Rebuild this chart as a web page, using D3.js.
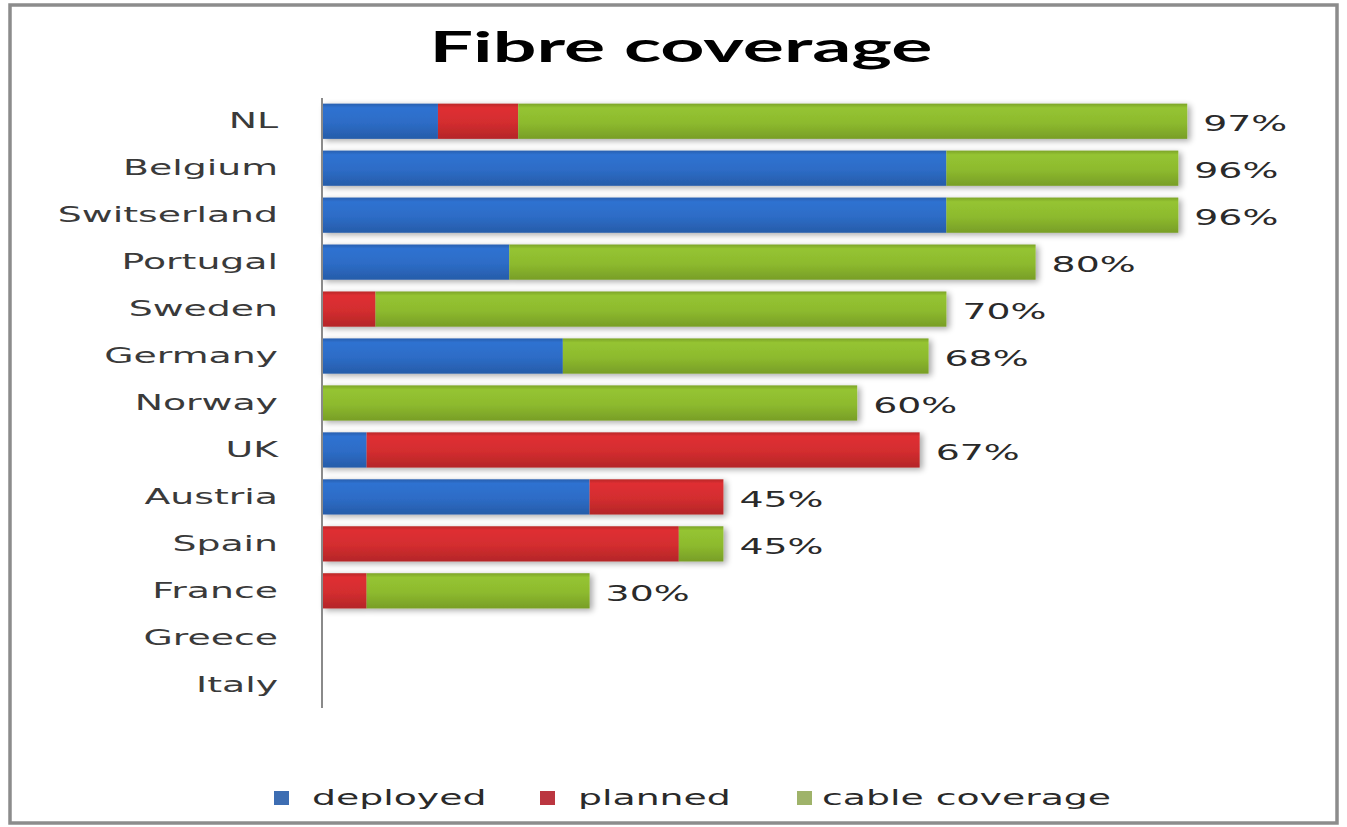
<!DOCTYPE html>
<html>
<head>
<meta charset="utf-8">
<script src="https://cdn.jsdelivr.net/npm/d3@7"></script>
<style>
  html, body { margin: 0; padding: 0; background: #fff; }
  svg { display: block; }
</style>
</head>
<body>
<svg id="chart" width="1347" height="827"></svg>
<script>
const categories = ["NL","Belgium","Switserland","Portugal","Sweden","Germany","Norway","UK","Austria","Spain","France","Greece","Italy"];
const deployed   = [13, 70, 70, 21, 0, 27, 0, 5, 30, 0, 0, 0, 0];
const planned    = [9, 0, 0, 0, 6, 0, 0, 62, 15, 40, 5, 0, 0];
const cable      = [75, 26, 26, 59, 64, 41, 60, 0, 0, 5, 25, 0, 0];
const totalLabels = ["97%","96%","96%","80%","70%","68%","60%","67%","45%","45%","30%","",""];
const seriesNames = ["deployed","planned","cable coverage"];
const seriesKeys = ["deployed","planned","cable"];
const barColors = ["#2d6cc6","#d32d2f","#8dba2e"];
const legendColors = ["#3d6db2","#bb3640","#9fb36a"];

const svg = d3.select("#chart");
const W = 1347, H = 827;
const SX = 1.8;            // horizontal text stretch seen in the reference
const FONT = "'DejaVu Sans', Verdana, sans-serif";

// frame
svg.append("rect").attr("x", 10).attr("y", 5).attr("width", W - 20).attr("height", H - 9)
  .attr("fill", "#fff").attr("stroke", "#8c8c8c").attr("stroke-width", 3.5);

const rows = categories.map((c, i) => ({ cat: c, deployed: deployed[i], planned: planned[i], cable: cable[i], label: totalLabels[i] }));

const x = d3.scaleLinear().domain([0, 100]).range([322, 1214]);
const y = d3.scaleBand().domain(categories).range([98, 708]).paddingInner(0.25).paddingOuter(0.12);

// gradients and shadow
const defs = svg.append("defs");
barColors.forEach((c, i) => {
  const g = defs.append("linearGradient").attr("id", "g" + i).attr("x1", 0).attr("y1", 0).attr("x2", 0).attr("y2", 1);
  const col = d3.color(c);
  g.append("stop").attr("offset", "0%").attr("stop-color", col.darker(0.35));
  g.append("stop").attr("offset", "12%").attr("stop-color", col.brighter(0.15));
  g.append("stop").attr("offset", "55%").attr("stop-color", col);
  g.append("stop").attr("offset", "100%").attr("stop-color", col.darker(0.45));
});
const f = defs.append("filter").attr("id", "shadow").attr("x", "-5%").attr("y", "-30%").attr("width", "115%").attr("height", "160%");
f.append("feGaussianBlur").attr("in", "SourceAlpha").attr("stdDeviation", 3).attr("result", "b");
f.append("feOffset").attr("in", "b").attr("dx", 3).attr("dy", 2).attr("result", "o");
f.append("feComponentTransfer").attr("in", "o").attr("result", "o2")
  .append("feFuncA").attr("type", "linear").attr("slope", 0.35);
const fm = f.append("feMerge");
fm.append("feMergeNode").attr("in", "o2");
fm.append("feMergeNode").attr("in", "SourceGraphic");

// title
const title = svg.append("text")
  .attr("font-family", "Lato, 'Open Sans', sans-serif").attr("font-weight", 700).attr("font-size", 42)
  .attr("fill", "#000").attr("text-anchor", "middle")
  .text("Fibre coverage");
const tw = title.node().getComputedTextLength() || 280;
title.attr("transform", `translate(681,62) scale(${503 / tw},1)`);

// stacked bars
const stack = d3.stack().keys(seriesKeys)(rows);
const layer = svg.append("g").attr("filter", "url(#shadow)");
stack.forEach((s, si) => {
  layer.selectAll(null).data(s.filter(d => d[1] - d[0] > 0)).join("rect")
    .attr("x", d => x(d[0]))
    .attr("y", d => y(d.data.cat))
    .attr("width", d => x(d[1]) - x(d[0]))
    .attr("height", y.bandwidth())
    .attr("fill", `url(#g${si})`);
});

// axis line
svg.append("line").attr("x1", 322).attr("x2", 322).attr("y1", 98).attr("y2", 708)
  .attr("stroke", "#8a8a8a").attr("stroke-width", 2);

// category labels
svg.selectAll(null).data(rows).join("text")
  .attr("transform", d => `translate(278,${y(d.cat) + y.bandwidth() / 2}) scale(${SX},1)`)
  .attr("text-anchor", "end").attr("dominant-baseline", "central")
  .attr("font-family", FONT).attr("font-size", 21).attr("fill", "#3a3a3a")
  .text(d => d.cat);

// total labels
svg.selectAll(null).data(rows.filter(d => d.label)).join("text")
  .attr("transform", d => `translate(${x(d.deployed + d.planned + d.cable) + 16},${y(d.cat) + y.bandwidth() / 2 + 3}) scale(${SX},1)`)
  .attr("dominant-baseline", "central")
  .attr("font-family", FONT).attr("font-size", 21).attr("fill", "#2a2a2a")
  .text(d => d.label);

// legend
const legSq = [274, 540, 797];
const legTx = [312, 578, 822];
const lg = svg.selectAll(null).data(seriesNames).join("g");
lg.append("rect").attr("x", (d, i) => legSq[i]).attr("y", 791).attr("width", 15).attr("height", 14)
  .attr("fill", (d, i) => legendColors[i]);
lg.append("text").attr("transform", (d, i) => `translate(${legTx[i]},798) scale(${SX},1)`)
  .attr("dominant-baseline", "central")
  .attr("font-family", FONT).attr("font-size", 21).attr("fill", "#2a2a2a")
  .text(d => d);
</script>
</body>
</html>
